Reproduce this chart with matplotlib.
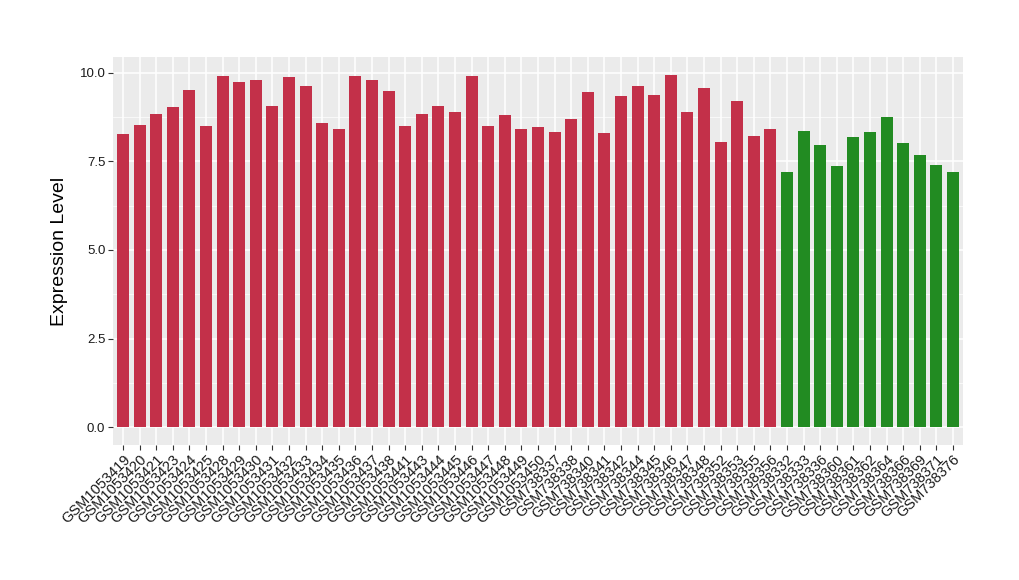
import matplotlib
matplotlib.use("Agg")
import matplotlib.pyplot as plt
from matplotlib.ticker import MultipleLocator

plt.rcParams['font.family'] = ['Liberation Sans', 'DejaVu Sans']

samples = [
    "GSM1053419", "GSM1053420", "GSM1053421", "GSM1053423", "GSM1053424", "GSM1053425",
    "GSM1053428", "GSM1053429", "GSM1053430", "GSM1053431", "GSM1053432", "GSM1053433",
    "GSM1053434", "GSM1053435", "GSM1053436", "GSM1053437", "GSM1053438", "GSM1053441",
    "GSM1053443", "GSM1053444", "GSM1053445", "GSM1053446", "GSM1053447", "GSM1053448",
    "GSM1053449", "GSM1053450",
    "GSM738337", "GSM738338", "GSM738340", "GSM738341", "GSM738342", "GSM738344",
    "GSM738345", "GSM738346", "GSM738347", "GSM738348", "GSM738352", "GSM738353",
    "GSM738355", "GSM738356",
    "GSM738332", "GSM738333", "GSM738336", "GSM738360", "GSM738361", "GSM738362",
    "GSM738364", "GSM738366", "GSM738369", "GSM738371", "GSM738376",
]
values = [
    8.26, 8.51, 8.82, 9.04, 9.52, 8.48, 9.89, 9.72, 9.80, 9.07, 9.86, 9.63,
    8.57, 8.40, 9.89, 9.78, 9.47, 8.48, 8.82, 9.07, 8.88, 9.89, 8.48, 8.79,
    8.40, 8.46,
    8.31, 8.68, 9.44, 8.29, 9.35, 9.63, 9.38, 9.94, 8.90, 9.55, 8.03, 9.21,
    8.20, 8.40,
    7.19, 8.34, 7.95, 7.36, 8.17, 8.31, 8.74, 8.01, 7.67, 7.39, 7.19,
]
groups = ["A"] * 40 + ["B"] * 11
group_colors = {"A": "#C33049", "B": "#228B22"}

fig = plt.figure(figsize=(10.2, 5.8), dpi=100)
ax = fig.add_axes([113 / 1020, 1 - 445 / 580, 850 / 1020, 388 / 580])
ax.set_facecolor("#EBEBEB")

x = list(range(len(samples)))
ax.bar(x, values, width=0.72, color=[group_colors[g] for g in groups], zorder=3)

ax.set_xlim(-0.6, len(samples) - 0.4)
ymax = max(values)
ax.set_ylim(-0.05 * ymax, ymax * 1.05)
ax.yaxis.set_major_locator(MultipleLocator(2.5))
ax.yaxis.set_minor_locator(MultipleLocator(1.25))
ax.set_yticks([0, 2.5, 5.0, 7.5, 10.0])
ax.set_yticklabels(["0.0", "2.5", "5.0", "7.5", "10.0"], fontsize=9.5, color="#1a1a1a")
ax.set_xticks(x)
ax.set_xticklabels(samples, rotation=45, ha="right", va="top",
                   rotation_mode="anchor", fontsize=10.5, color="#1a1a1a")

ax.grid(which="major", color="white", linewidth=1.1, zorder=0)
ax.grid(which="minor", axis="y", color="white", linewidth=0.5, zorder=0)
ax.set_axisbelow(True)
for s in ax.spines.values():
    s.set_visible(False)
ax.tick_params(axis="both", which="major", length=3.5, color="#333333", width=0.8, pad=2)
ax.tick_params(axis="both", which="minor", length=0)

ax.set_ylabel("Expression Level", fontsize=14, labelpad=8)

fig.savefig("out.png", dpi=100)
